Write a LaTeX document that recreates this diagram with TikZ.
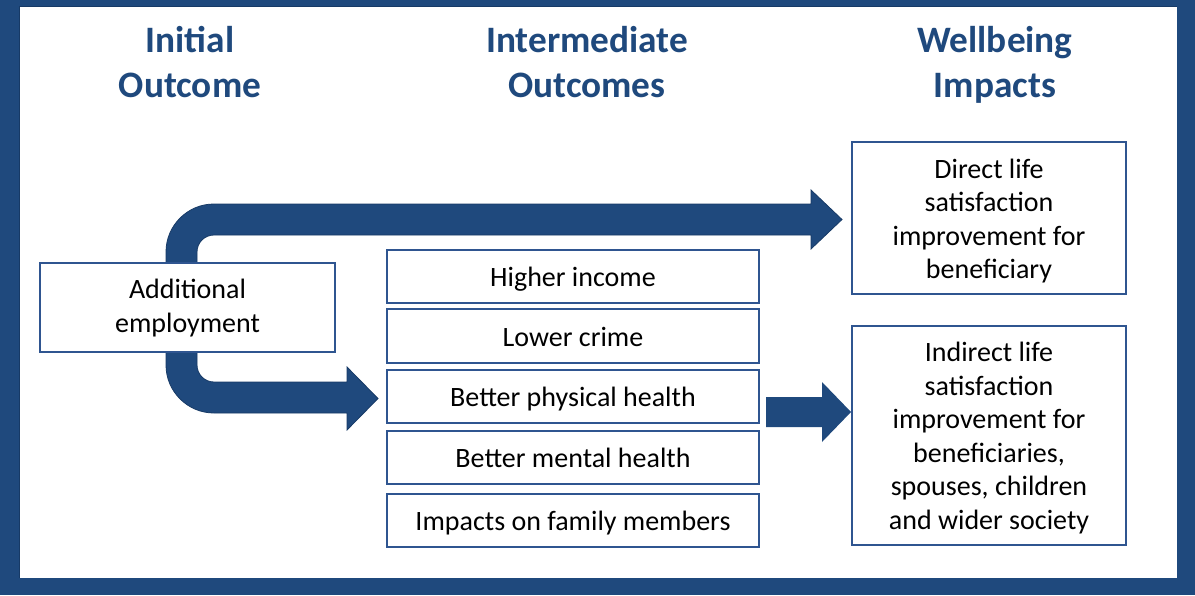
\documentclass[tikz,border=0pt]{standalone}
\usepackage{fontspec}
\setmainfont{Carlito}
\definecolor{frameblue}{HTML}{1F497D}
\definecolor{arrowblue}{HTML}{1F497D}
\definecolor{arrowedge}{HTML}{173A66}
\definecolor{boxedge}{HTML}{2F5590}
\definecolor{headblue}{HTML}{1F497D}
% invisible strut that sets the height of a first text line
\newcommand{\firstline}[1]{\rule{0pt}{#1}}
\tikzset{
  head/.style={align=center, text=headblue, inner sep=0pt,
    font=\fontsize{37.3}{45}\selectfont\bfseries,
    execute at begin node={\rule{0pt}{30pt}},
    execute at end node={\rule[-9pt]{0pt}{9pt}}},
  outbox/.style={draw=boxedge, line width=1.4pt, fill=white, align=center,
    inner sep=0pt, font=\fontsize{28}{33.5}\selectfont,
    execute at begin node={\rule{0pt}{27pt}},
    execute at end node={\rule[-7pt]{0pt}{7pt}}},
  blockarrow/.style={fill=arrowblue, draw=arrowedge, line width=0.8pt, line join=miter}
}
\begin{document}
\begin{tikzpicture}[x=1pt,y=-1pt]
% frame
\fill[frameblue] (0,0) rectangle (1195,595);
\fill[white] (19,6) rectangle (1177,578);
\draw[arrowedge, line width=1pt] (19,578) -- (19,6) -- (1177,6);
\useasboundingbox (0,0) rectangle (1195,595);

% column headings
\node[head] (hinit) at (190,66) {Initial\\Outcome};
\node[head] (hinter) at (587,66) {Intermediate\\Outcomes};
\node[head] (hwell) at (995,66) {Wellbeing\\Impacts};

% bent arrow: employment -> direct satisfaction
\path[blockarrow] (166,300) -- (166,252)
  .. controls (166,225.5) and (187.5,204) .. (214,204)
  -- (811,204) -- (811,190) -- (842,219.5) -- (811,249) -- (811,235)
  -- (214,235) .. controls (204.6,235) and (197,242.6) .. (197,252)
  -- (197,300) -- cycle;
% bent arrow: employment -> intermediate outcomes
\path[blockarrow] (166,320) -- (166,365)
  .. controls (166,391.5) and (187.5,413) .. (214,413)
  -- (347,413) -- (347,430) -- (378,398.5) -- (347,367) -- (347,382)
  -- (214,382) .. controls (204.6,382) and (197,374.4) .. (197,365)
  -- (197,320) -- cycle;
% straight arrow: intermediate outcomes -> indirect satisfaction
\path[blockarrow, draw=none] (766,397) -- (822,397) -- (822,382) -- (851,412)
  -- (822,442) -- (822,427) -- (766,427) -- cycle;

% initial outcome
\node[outbox, minimum width=295pt, minimum height=89pt] (emp) at (187.5,307.5)
  {\firstline{23pt}Additional\\employment};

% intermediate outcomes
\node[outbox, minimum width=372pt, minimum height=53pt] (inc) at (573,276.5) {Higher income};
\node[outbox, minimum width=372pt, minimum height=54pt] (crime) at (573,336) {Lower crime};
\node[outbox, minimum width=372pt, minimum height=53pt] (phys) at (573,396.5) {Better physical health};
\node[outbox, minimum width=372pt, minimum height=53pt] (ment) at (573,457.5) {Better mental health};
\node[outbox, minimum width=372pt, minimum height=53pt] (fam) at (573,520.5) {Impacts on family members};

% wellbeing impacts
\node[outbox, minimum width=274pt, minimum height=152pt] (direct) at (989,218)
  {\firstline{28pt}Direct life\\satisfaction\\improvement for\\beneficiary};
\node[outbox, minimum width=274pt, minimum height=219pt] (indirect) at (989,435.5)
  {\firstline{27pt}Indirect life\\satisfaction\\improvement for\\beneficiaries,\\spouses, children\\and wider society};
\end{tikzpicture}
\end{document}
